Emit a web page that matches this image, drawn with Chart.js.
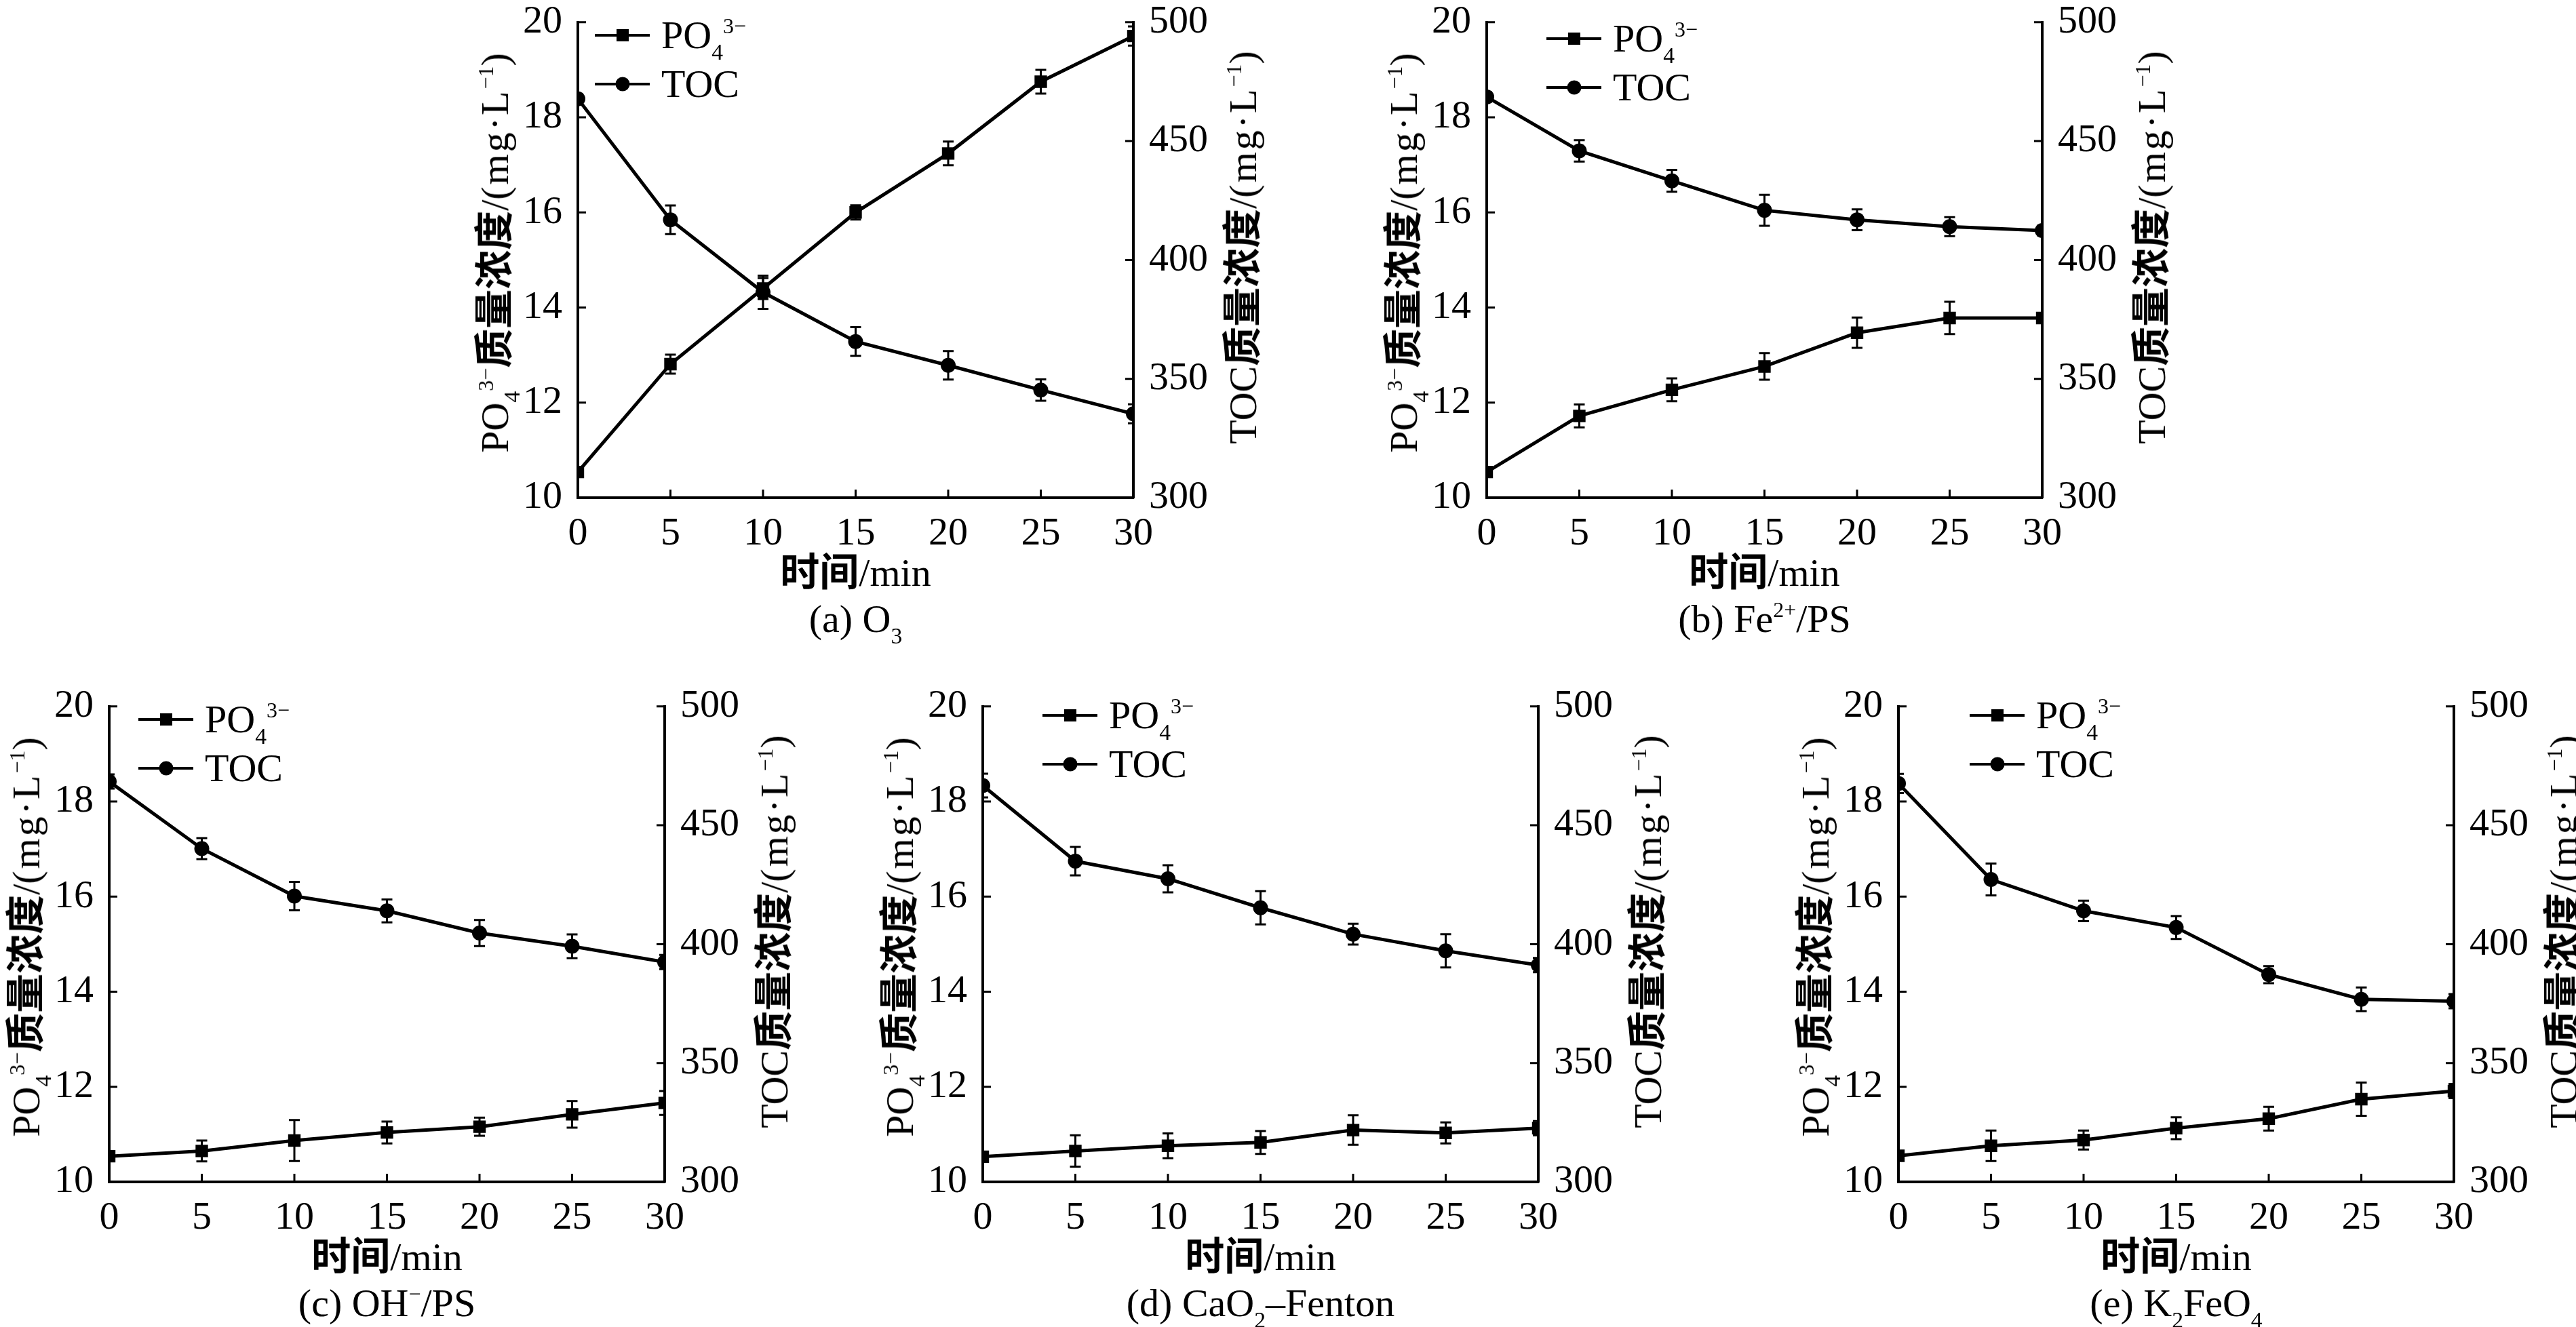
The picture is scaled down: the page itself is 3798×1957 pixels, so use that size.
<!DOCTYPE html>
<html>
<head>
<meta charset="utf-8">
<script src="https://cdn.jsdelivr.net/npm/chart.js@4.4.1/dist/chart.umd.min.js"></script>
<style>
    body { margin: 0; background: #fff; }
    #page { position: relative; width: 3798px; height: 1957px; overflow: hidden; background: #fff;
            font-family: "Liberation Serif", "Times New Roman", serif; color: #000; }
    canvas { position: absolute; }
    .txt { position: absolute; white-space: nowrap; font-size: 58px; line-height: 1; }
    .mid { transform: translate(-50%, -50%); }
    .rot { transform: translate(-50%, -50%) rotate(-90deg); }
    .cn { font-family: "Noto Sans CJK SC", sans-serif; font-weight: 700; }
    .sp { letter-spacing: 3px; }
    sub, sup { line-height: 0; position: relative; vertical-align: baseline; }
    sub { font-size: 0.58em; top: 0.5em; }
    sup { font-size: 0.55em; top: -0.7em; }
    .lg-line { position: absolute; height: 4px; background: #000; }
    .lg-mark { position: absolute; background: #000; transform: translate(-50%, -50%); }
</style>
</head>
<body>
<div id="page"></div>
<script>
// time axis and tick labels
const times = [0, 5, 10, 15, 20, 25, 30];
const leftTicks = [10, 12, 14, 16, 18, 20];
const rightTicks = [300, 350, 400, 450, 500];

// (a) O3
const po4A = [10.54, 12.81, 14.40, 16.00, 17.24, 18.75, 19.71];
const po4ErrA = [0.10, 0.20, 0.22, 0.15, 0.25, 0.25, 0.20];
const tocA = [467.8, 416.9, 386.4, 365.7, 355.7, 345.3, 335.3];
const tocErrA = [2, 6, 7, 6, 6, 4.5, 4];

// (b) Fe2+/PS
const po4B = [10.54, 11.72, 12.27, 12.76, 13.47, 13.78, 13.78];
const po4ErrB = [0.10, 0.24, 0.24, 0.28, 0.32, 0.34, 0.10];
const tocB = [468.6, 445.9, 433.3, 420.9, 416.9, 414.0, 412.4];
const tocErrB = [2, 4.5, 4.6, 6.5, 4.4, 4, 2];

// (c) OH-/PS
const po4C = [10.54, 10.65, 10.87, 11.04, 11.16, 11.42, 11.66];
const po4ErrC = [0.10, 0.22, 0.43, 0.23, 0.19, 0.28, 0.25];
const tocC = [468.4, 440.2, 420.2, 414.0, 404.7, 399.1, 392.5];
const tocErrC = [3, 4.4, 6, 4.8, 5.5, 5, 3];

// (d) CaO2-Fenton
const po4D = [10.53, 10.65, 10.76, 10.83, 11.09, 11.03, 11.13];
const po4ErrD = [0.10, 0.33, 0.26, 0.24, 0.31, 0.22, 0.15];
const tocD = [466.7, 434.9, 427.5, 415.3, 404.2, 397.2, 391.2];
const tocErrD = [5, 6, 5.7, 7, 4.4, 7, 3];

// (e) K2FeO4
const po4E = [10.55, 10.76, 10.88, 11.13, 11.33, 11.74, 11.91];
const po4ErrE = [0.10, 0.32, 0.20, 0.23, 0.25, 0.35, 0.15];
const tocE = [467.6, 427.2, 414.0, 407.0, 387.2, 376.8, 376.0];
const tocErrE = [4, 6.7, 4.3, 4.8, 3.6, 5, 3];

const po4Label = 'PO<sub>4</sub><sup>3−</sup>';
const unit = '/<span class="sp">(mg·L</span><sup>−1</sup>)';

const panels = [
    { left: 852,  top: 23,   po4: po4A, po4Err: po4ErrA, toc: tocA, tocErr: tocErrA, caption: '(a) O<sub>3</sub>', lgX: 25,  lgY: 29 },
    { left: 2192, top: 23,   po4: po4B, po4Err: po4ErrB, toc: tocB, tocErr: tocErrB, caption: '(b) Fe<sup>2+</sup>/PS', lgX: 88,  lgY: 34 },
    { left: 161,  top: 1032, po4: po4C, po4Err: po4ErrC, toc: tocC, tocErr: tocErrC, caption: '(c) OH<sup>−</sup>/PS', lgX: 43,  lgY: 29 },
    { left: 1449, top: 1032, po4: po4D, po4Err: po4ErrD, toc: tocD, tocErr: tocErrD, caption: '(d) CaO<sub>2</sub>–Fenton', lgX: 88,  lgY: 23 },
    { left: 2799, top: 1032, po4: po4E, po4Err: po4ErrE, toc: tocE, tocErr: tocErrE, caption: '(e) K<sub>2</sub>FeO<sub>4</sub>', lgX: 105, lgY: 23 }
];

const W = 819, H = 711, L = 130, R = 130, T = 40, B = 80;
const page = document.getElementById('page');

// error bars drawn from each dataset's errors, clipped to plot area
const errorBars = {
    id: 'errorBars',
    afterDatasetsDraw(chart) {
        const { ctx, chartArea: a } = chart;
        ctx.save();
        ctx.beginPath();
        ctx.rect(a.left, a.top, a.right - a.left, a.bottom - a.top);
        ctx.clip();
        ctx.strokeStyle = '#000';
        ctx.lineWidth = 3;
        chart.data.datasets.forEach((ds, i) => {
            const meta = chart.getDatasetMeta(i);
            const ys = chart.scales[ds.yAxisID];
            meta.data.forEach((pt, j) => {
                const e = ds.errors[j];
                const hi = ys.getPixelForValue(ds.data[j] + e);
                const lo = ys.getPixelForValue(ds.data[j] - e);
                ctx.beginPath();
                ctx.moveTo(pt.x, hi); ctx.lineTo(pt.x, lo);
                ctx.moveTo(pt.x - 8, hi); ctx.lineTo(pt.x + 8, hi);
                ctx.moveTo(pt.x - 8, lo); ctx.lineTo(pt.x + 8, lo);
                ctx.stroke();
            });
        });
        ctx.restore();
    }
};

// tick marks pointing into the plot
const innerTicks = {
    id: 'innerTicks',
    afterDraw(chart) {
        const { ctx, chartArea: a, scales } = chart;
        const len = 12;
        ctx.save();
        ctx.strokeStyle = '#000';
        ctx.lineWidth = 3;
        ctx.beginPath();
        scales.x.ticks.forEach((t, i) => {
            const px = scales.x.getPixelForTick(i);
            ctx.moveTo(px, a.bottom); ctx.lineTo(px, a.bottom - len);
        });
        scales.y.ticks.forEach((t, i) => {
            const py = scales.y.getPixelForTick(i);
            ctx.moveTo(a.left, py); ctx.lineTo(a.left + len, py);
        });
        scales.y1.ticks.forEach((t, i) => {
            const py = scales.y1.getPixelForTick(i);
            ctx.moveTo(a.right, py); ctx.lineTo(a.right - len, py);
        });
        ctx.stroke();
        ctx.restore();
    }
};

const tickFont = { family: 'Liberation Serif', size: 58 };

function addText(html, x, y, cls) {
    const d = document.createElement('div');
    d.className = 'txt ' + cls;
    d.innerHTML = html;
    d.style.left = x + 'px';
    d.style.top = y + 'px';
    page.appendChild(d);
    return d;
}

function addLegendRow(x, y, square, html) {
    const line = document.createElement('div');
    line.className = 'lg-line';
    line.style.left = x + 'px';
    line.style.top = (y - 2) + 'px';
    line.style.width = '81px';
    page.appendChild(line);
    const m = document.createElement('div');
    m.className = 'lg-mark';
    m.style.left = (x + 41) + 'px';
    m.style.top = y + 'px';
    m.style.width = square ? '18px' : '21px';
    m.style.height = square ? '18px' : '21px';
    if (!square) m.style.borderRadius = '50%';
    page.appendChild(m);
    const t = addText(html, x + 98, y, '');
    t.style.transform = 'translateY(-50%)';
}

panels.forEach(p => {
    const cv = document.createElement('canvas');
    cv.width = W + L + R;
    cv.height = H + T + B;
    cv.style.left = (p.left - L) + 'px';
    cv.style.top = (p.top - T) + 'px';
    page.appendChild(cv);

    new Chart(cv, {
        type: 'line',
        data: {
            labels: times.map(String),
            datasets: [
                {
                    label: 'PO4',
                    data: p.po4,
                    errors: p.po4Err,
                    yAxisID: 'y',
                    borderColor: '#000',
                    backgroundColor: '#000',
                    borderWidth: 5,
                    pointStyle: 'rect',
                    pointRadius: 13,
                    pointBorderWidth: 0,
                    tension: 0,
                    clip: 0
                },
                {
                    label: 'TOC',
                    data: p.toc,
                    errors: p.tocErr,
                    yAxisID: 'y1',
                    borderColor: '#000',
                    backgroundColor: '#000',
                    borderWidth: 5,
                    pointStyle: 'circle',
                    pointRadius: 11,
                    pointBorderWidth: 0,
                    tension: 0,
                    clip: 0
                }
            ]
        },
        options: {
            responsive: false,
            devicePixelRatio: 1,
            animation: false,
            events: [],
            layout: { padding: { top: T, left: 0, right: 0, bottom: 0 } },
            plugins: {
                legend: { display: false },
                tooltip: { enabled: false }
            },
            scales: {
                x: {
                    type: 'category',
                    offset: false,
                    grid: { display: false },
                    border: { display: true, color: '#000', width: 4 },
                    ticks: { color: '#000', font: tickFont, padding: 11, maxRotation: 0, autoSkip: false },
                    afterFit: s => { s.height = B; }
                },
                y: {
                    position: 'left',
                    min: 10,
                    max: 20,
                    grid: { display: false },
                    border: { display: true, color: '#000', width: 4 },
                    ticks: { color: '#000', font: tickFont, padding: 15 },
                    afterBuildTicks: s => { s.ticks = leftTicks.map(v => ({ value: v })); },
                    afterFit: s => { s.width = L; }
                },
                y1: {
                    position: 'right',
                    min: 300,
                    max: 500,
                    grid: { display: false },
                    border: { display: true, color: '#000', width: 4 },
                    ticks: { color: '#000', font: tickFont, padding: 15 },
                    afterBuildTicks: s => { s.ticks = rightTicks.map(v => ({ value: v })); },
                    afterFit: s => { s.width = R; }
                }
            }
        },
        plugins: [errorBars, innerTicks]
    });

    // axis titles, caption, legend
    addText('<span class="cn">时间</span>/min', p.left + W / 2, p.top + H + 108, 'mid');
    addText(p.caption, p.left + W / 2, p.top + H + 179, 'mid');
    addText(po4Label + '<span class="cn">质量浓度</span>' + unit, p.left - 125, p.top + H / 2 - 6, 'rot');
    addText('TOC<span class="cn">质量浓度</span>' + unit, p.left + W + 159, p.top + H / 2 - 14, 'rot');
    addLegendRow(p.left + p.lgX, p.top + p.lgY, true, po4Label);
    addLegendRow(p.left + p.lgX, p.top + p.lgY + 72, false, 'TOC');
});
</script>
</body>
</html>
